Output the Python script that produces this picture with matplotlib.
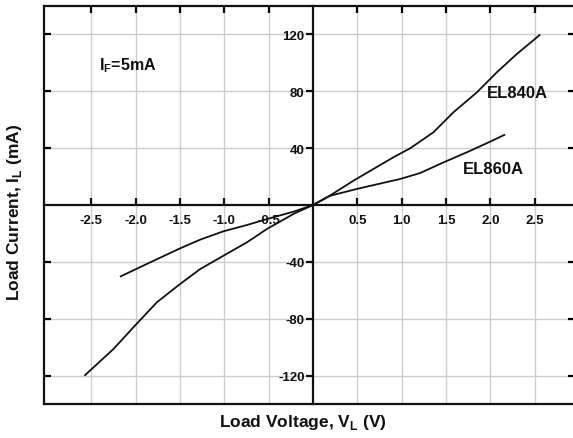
import matplotlib
matplotlib.use("Agg")
import matplotlib.pyplot as plt
import numpy as np

# ---- data ----
el840_v = [-2.572, -2.253, -2.027, -1.763, -1.50, -1.274, -1.011, -0.747, -0.521, -0.221, 0.0,
           0.20, 0.456, 0.907, 1.096, 1.359, 1.585, 1.849, 2.074, 2.30, 2.555]
el840_i = [-119.7, -101.4, -86.1, -68.5, -55.6, -45.1, -35.7, -26.3, -16.9, -6.3, 0.0,
           7.0, 17.1, 33.6, 39.9, 51.2, 65.3, 79.3, 93.4, 106.3, 119.5]
el860_v = [-2.169, -1.876, -1.50, -1.274, -1.011, -0.747, -0.521, -0.221, 0.0,
           0.193, 0.494, 0.983, 1.209, 1.472, 1.736, 1.999, 2.157]
el860_i = [-50.2, -41.5, -30.5, -24.4, -18.5, -14.1, -9.9, -4.7, 0.0,
           6.5, 11.3, 18.3, 22.5, 30.0, 37.1, 44.6, 49.3]
x_ticks = [-2.5, -2.0, -1.5, -1.0, -0.5, 0.5, 1.0, 1.5, 2.0, 2.5]
y_ticks = [-120, -80, -40, 40, 80, 120]
x_labels = ["-2.5", "-2.0", "-1.5", "-1.0", "-0.5", "0.5", "1.0", "1.5", "2.0", "2.5"]
y_labels = ["-120", "-80", "-40", "40", "80", "120"]

plt.rcParams['font.family'] = ['Liberation Sans', 'DejaVu Sans']
plt.rcParams['mathtext.fontset'] = 'custom'
plt.rcParams['mathtext.rm'] = 'Liberation Sans:bold'
plt.rcParams['mathtext.bf'] = 'Liberation Sans:bold'

W, H = 573, 439
fig = plt.figure(figsize=(W / 100, H / 100), dpi=100)
pos = [44 / W, (H - 405) / H, (575 - 44) / W, (405 - 7) / H]
xlim = (-3.035, 2.955)
ylim = (-140, 140)

ax = fig.add_axes(pos)
ax.set_xlim(*xlim)
ax.set_ylim(*ylim)
ax.spines['left'].set_position(('data', 0))
ax.spines['bottom'].set_position(('data', 0))
ax.spines['top'].set_visible(False)
ax.spines['right'].set_visible(False)
for s in ('left', 'bottom'):
    ax.spines[s].set_linewidth(1.6)
    ax.spines[s].set_color('#111111')

ax.set_xticks(x_ticks)
ax.set_xticklabels(x_labels)
ax.set_yticks(y_ticks)
ax.set_yticklabels(y_labels)
ax.tick_params(axis='x', direction='in', length=5, width=1.6, pad=6.5,
               labelsize=9.5, colors='#111111')
ax.tick_params(axis='y', direction='out', length=5, width=1.6, pad=1,
               labelsize=9.5, colors='#111111')
for lab in ax.get_xticklabels() + ax.get_yticklabels():
    lab.set_fontweight('bold')
ax.grid(True, color='#cccccc', lw=1.0)
ax.set_axisbelow(True)

ax.plot(el840_v, el840_i, color='#111111', lw=1.3)
ax.plot(el860_v, el860_i, color='#111111', lw=1.3)

ax.text(-2.41, 98.5, r'I$_{\mathrm{F}}$=5mA', fontsize=11.5, fontweight='bold',
        ha='left', va='center', color='#111111')
ax.text(1.96, 79, 'EL840A', fontsize=12, fontweight='bold', ha='left',
        va='center', color='#111111')
ax.text(1.69, 26, 'EL860A', fontsize=12, fontweight='bold', ha='left',
        va='center', color='#111111')

# outer frame
ax2 = fig.add_axes(pos, facecolor='none')
ax2.set_xlim(*xlim)
ax2.set_ylim(*ylim)
for s in ax2.spines.values():
    s.set_linewidth(1.6)
    s.set_color('#111111')
ax2.set_xticks(x_ticks)
ax2.set_yticks(y_ticks)
ax2.tick_params(axis='x', which='both', bottom=False, top=True, labelbottom=False,
                direction='in', length=5, width=1.6)
ax2.tick_params(axis='y', which='both', left=True, right=True, labelleft=False,
                direction='in', length=5, width=1.6)

fig.text(303 / W, 1 - 423 / H, r'Load Voltage, V$_{\mathrm{L}}$ (V)', fontsize=12.5,
         fontweight='bold', ha='center', va='center', color='#111111')
fig.text(15 / W, 1 - 212 / H, r'Load Current, I$_{\mathrm{L}}$ (mA)', fontsize=12.5,
         fontweight='bold', ha='center', va='center', rotation=90, color='#111111')

fig.savefig('out.png', dpi=100)
